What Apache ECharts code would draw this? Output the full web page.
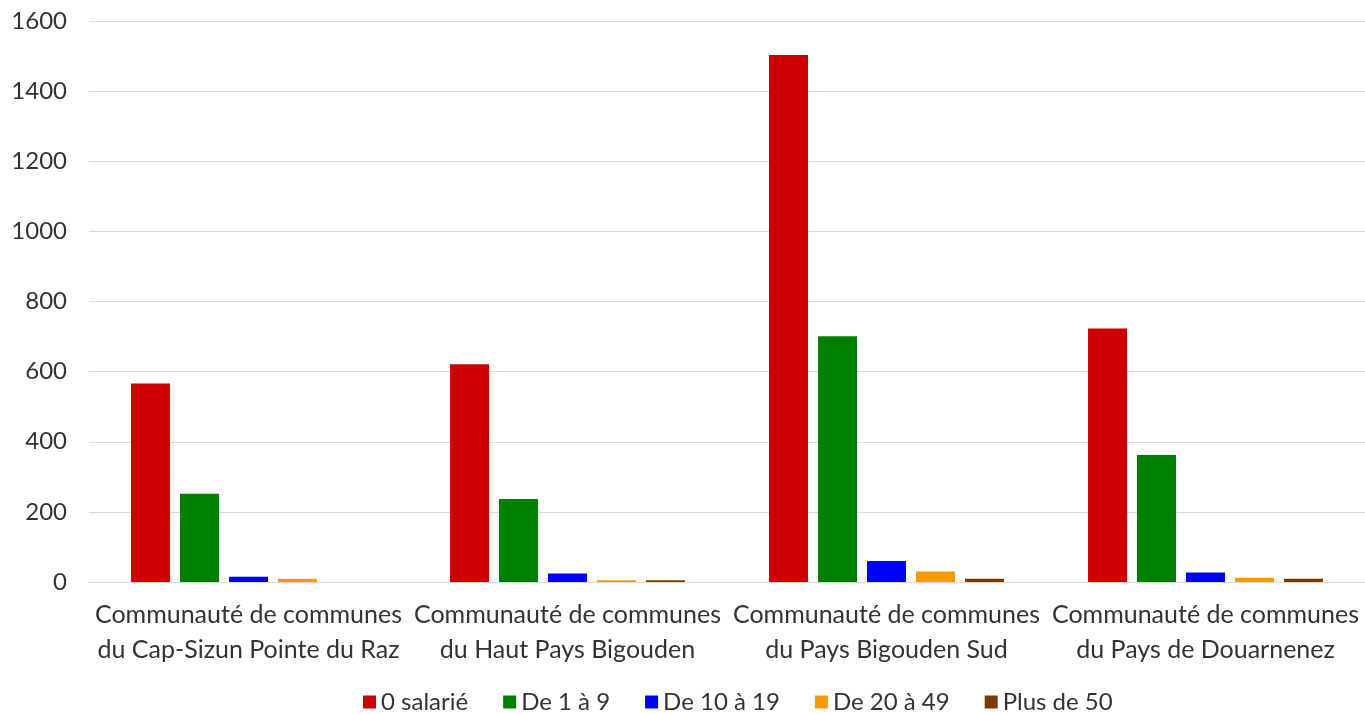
<!DOCTYPE html>
<html>
<head>
<meta charset="utf-8">
<script src="https://cdn.jsdelivr.net/npm/echarts@6/dist/echarts.min.js"></script>
<style>
  html, body { margin: 0; padding: 0; background: #fff; }
  #main { width: 1365px; height: 714px; }
</style>
</head>
<body>
<div id="main"></div>
<script>
// données
var categories = [
    'Communauté de communes\ndu Cap-Sizun Pointe du Raz',
    'Communauté de communes\ndu Haut Pays Bigouden',
    'Communauté de communes\ndu Pays Bigouden Sud',
    'Communauté de communes\ndu Pays de Douarnenez'
];
var seriesNames = ['0 salarié', 'De 1 à 9', 'De 10 à 19', 'De 20 à 49', 'Plus de 50'];
var zeroSalarie = [566, 621, 1503, 723];
var de1a9 = [252, 237, 701, 362];
var de10a19 = [15, 24, 60, 27];
var de20a49 = [9, 5, 30, 12];
var plusDe50 = [0, 5, 9, 9];
var colors = ['#cc0000', '#008000', '#0000ff', '#f59b00', '#7b3b00'];

var font = 'Lato, "Open Sans", sans-serif';
var allData = [zeroSalarie, de1a9, de10a19, de20a49, plusDe50];

var series = [];
for (var i = 0; i < seriesNames.length; i++) {
    series.push({
        name: seriesNames[i],
        type: 'bar',
        data: allData[i],
        barWidth: 39,
        barGap: '25.6%',
        itemStyle: { color: colors[i] }
    });
}

var myChart = echarts.init(document.getElementById('main'));
var option = {
    animation: false,
    color: colors,
    grid: { left: 89, right: 0, top: 21, bottom: 132 },
    legend: {
        top: 690,
        left: 363,
        padding: 0,
        itemWidth: 13,
        itemHeight: 13,
        itemGap: 35,
        icon: 'rect',
        textStyle: { fontFamily: font, fontSize: 24, color: '#333333' },
        data: seriesNames
    },
    xAxis: {
        type: 'category',
        data: categories,
        axisLine: { lineStyle: { color: '#d9d9d9', width: 1 } },
        axisTick: { show: false },
        axisLabel: {
            fontFamily: font, fontSize: 25, color: '#333333',
            lineHeight: 35, margin: 15, interval: 0
        }
    },
    yAxis: {
        type: 'value',
        min: 0,
        max: 1600,
        interval: 200,
        axisLine: { show: false },
        axisTick: { show: false },
        splitLine: { lineStyle: { color: '#d9d9d9', width: 1 } },
        axisLabel: {
            fontFamily: font, fontSize: 24, color: '#333333', margin: 22,
            formatter: function (v) { return String(v); }
        }
    },
    series: series
};
myChart.setOption(option);
</script>
</body>
</html>
